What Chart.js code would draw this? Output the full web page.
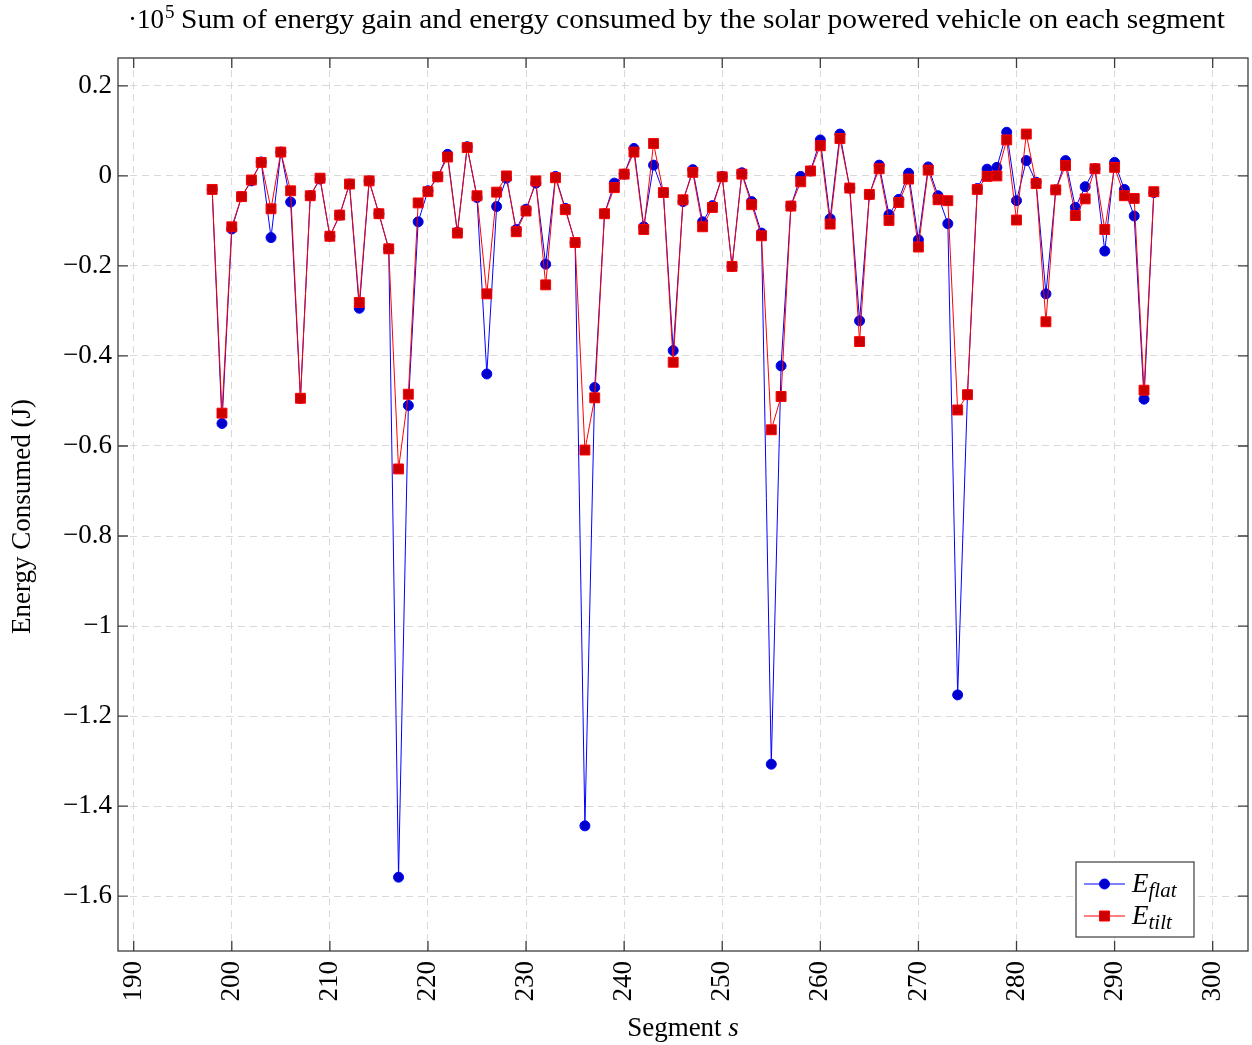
<!DOCTYPE html>
<html>
<head>
<meta charset="utf-8">
<script src="https://cdn.jsdelivr.net/npm/chart.js@4.4.1/dist/chart.umd.min.js"></script>
<style>
  body { margin: 0; background: #fff; }
  #wrap { width: 1252px; height: 1045px; }
</style>
</head>
<body>
<div id="wrap"><canvas id="grafik" width="1252" height="1045"></canvas></div>
<script>
// segment numbers
const segments = [198, 199, 200, 201, 202, 203, 204, 205, 206, 207, 208, 209, 210, 211, 212, 213, 214, 215, 216, 217,
  218, 219, 220, 221, 222, 223, 224, 225, 226, 227, 228, 229, 230, 231, 232, 233, 234, 235, 236, 237,
  238, 239, 240, 241, 242, 243, 244, 245, 246, 247, 248, 249, 250, 251, 252, 253, 254, 255, 256, 257,
  258, 259, 260, 261, 262, 263, 264, 265, 266, 267, 268, 269, 270, 271, 272, 273, 274, 275, 276, 277,
  278, 279, 280, 281, 282, 283, 284, 285, 286, 287, 288, 289, 290, 291, 292, 293, 294];

// energy values, unit 1e5 J
const eFlat = [-0.030, -0.550, -0.118, -0.046, -0.011, 0.031, -0.137, 0.053, -0.058, -0.494,
  -0.044, -0.007, -0.134, -0.087, -0.018, -0.294, -0.011, -0.084, -0.162, -1.558,
  -0.510, -0.102, -0.033, -0.002, 0.048, -0.125, 0.065, -0.048, -0.440, -0.068,
  -0.005, -0.119, -0.074, -0.016, -0.196, -0.001, -0.072, -0.148, -1.444, -0.470,
  -0.084, -0.016, 0.004, 0.061, -0.113, 0.024, -0.037, -0.388, -0.057, 0.014,
  -0.102, -0.066, -0.001, -0.201, 0.007, -0.057, -0.127, -1.307, -0.422, -0.067,
  -0.001, 0.011, 0.080, -0.095, 0.093, -0.027, -0.322, -0.042, 0.024, -0.086,
  -0.052, 0.006, -0.142, 0.020, -0.044, -0.106, -1.153, -0.486, -0.028, 0.015,
  0.019, 0.097, -0.055, 0.034, -0.014, -0.262, -0.031, 0.034, -0.070, -0.024,
  0.016, -0.167, 0.030, -0.030, -0.089, -0.496, -0.037];

const eTilt = [-0.030, -0.527, -0.113, -0.046, -0.009, 0.030, -0.073, 0.053, -0.033, -0.494,
  -0.044, -0.005, -0.134, -0.087, -0.018, -0.281, -0.011, -0.084, -0.162, -0.651,
  -0.485, -0.060, -0.035, -0.002, 0.042, -0.127, 0.063, -0.044, -0.262, -0.036,
  0.000, -0.124, -0.078, -0.011, -0.242, -0.004, -0.075, -0.148, -0.609, -0.493,
  -0.084, -0.026, 0.004, 0.053, -0.119, 0.072, -0.037, -0.414, -0.053, 0.008,
  -0.113, -0.070, -0.002, -0.201, 0.004, -0.064, -0.133, -0.564, -0.490, -0.067,
  -0.013, 0.011, 0.067, -0.107, 0.083, -0.027, -0.368, -0.041, 0.016, -0.099,
  -0.059, -0.007, -0.158, 0.013, -0.053, -0.055, -0.520, -0.486, -0.030, -0.001,
  0.000, 0.080, -0.098, 0.093, -0.017, -0.324, -0.031, 0.023, -0.088, -0.051,
  0.016, -0.119, 0.019, -0.044, -0.050, -0.476, -0.035];

const seriesNames = [['E', 'flat'], ['E', 'tilt']];
const judul = 'Sum of energy gain and energy consumed by the solar powered vehicle on each segment';
const labelX = 'Segment';
const labelY = 'Energy Consumed (J)';

const FONT = 'Liberation Serif';
const SIZE = 27;

function toPoints(vals) {
  return segments.map((s, i) => ({ x: s, y: vals[i] }));
}

function fmtY(v) {
  let r = Math.round(v * 10) / 10;
  if (r === 0) return '0';
  return (r < 0 ? '\u2212' : '') + String(Math.abs(r));
}

// frame, inward ticks, texts and legend
const hiasan = {
  id: 'hiasan',
  afterDatasetsDraw(chart) {
    const ctx = chart.ctx;
    const a = chart.chartArea;
    const sx = chart.scales.x, sy = chart.scales.y;
    ctx.save();
    ctx.strokeStyle = '#3c3c3c';
    ctx.lineWidth = 1.3;
    ctx.setLineDash([]);
    ctx.strokeRect(a.left, a.top, a.right - a.left, a.bottom - a.top);
    const tl = 10;
    ctx.beginPath();
    sx.ticks.forEach(t => {
      const p = sx.getPixelForValue(t.value);
      ctx.moveTo(p, a.top); ctx.lineTo(p, a.top + tl);
      ctx.moveTo(p, a.bottom); ctx.lineTo(p, a.bottom - tl);
    });
    sy.ticks.forEach(t => {
      const p = sy.getPixelForValue(t.value);
      ctx.moveTo(a.left, p); ctx.lineTo(a.left + tl, p);
      ctx.moveTo(a.right, p); ctx.lineTo(a.right - tl, p);
    });
    ctx.stroke();

    // legend
    const lw = 118, lh = 75;
    const lx = a.right - 172, ly = a.bottom - 89;
    ctx.fillStyle = '#fff';
    ctx.fillRect(lx, ly, lw, lh);
    ctx.strokeStyle = '#3c3c3c';
    ctx.lineWidth = 1.2;
    ctx.strokeRect(lx, ly, lw, lh);
    chart.data.datasets.forEach((ds, i) => {
      const cy = ly + 22 + i * 32;
      ctx.strokeStyle = ds.borderColor;
      ctx.lineWidth = 1;
      ctx.beginPath();
      ctx.moveTo(lx + 8, cy); ctx.lineTo(lx + 49, cy);
      ctx.stroke();
      ctx.fillStyle = ds.pointBackgroundColor;
      ctx.beginPath();
      if (ds.pointStyle === 'rect') {
        ctx.rect(lx + 28.5 - 5, cy - 5, 10, 10);
      } else {
        ctx.arc(lx + 28.5, cy, 5, 0, Math.PI * 2);
      }
      ctx.fill();
      ctx.stroke();
      const nm = seriesNames[i];
      ctx.fillStyle = '#000';
      ctx.textBaseline = 'alphabetic';
      ctx.textAlign = 'left';
      ctx.font = 'italic ' + SIZE + 'px ' + FONT;
      ctx.fillText(nm[0], lx + 56, cy + 8);
      const w = ctx.measureText(nm[0]).width;
      ctx.font = 'italic 21px ' + FONT;
      ctx.fillText(nm[1], lx + 56 + w, cy + 13);
    });

    // title with scale factor
    ctx.fillStyle = '#000';
    ctx.textAlign = 'left';
    ctx.font = SIZE + 'px ' + FONT;
    ctx.fillText('\u00b710', 128, 28);
    const w10 = ctx.measureText('\u00b710').width;
    ctx.font = '19px ' + FONT;
    ctx.fillText('5', 128 + w10 + 1, 18);
    ctx.font = SIZE + 'px ' + FONT;
    ctx.textAlign = 'center';
    const wj = ctx.measureText(judul).width;
    const k = 1044 / wj;
    ctx.save();
    ctx.translate(703, 28);
    ctx.scale(k, 1);
    ctx.fillText(judul, 0, 0);
    ctx.restore();

    // x axis label
    ctx.textAlign = 'left';
    ctx.font = SIZE + 'px ' + FONT;
    const wS = ctx.measureText(labelX + ' ').width;
    ctx.font = 'italic ' + SIZE + 'px ' + FONT;
    const wI = ctx.measureText('s').width;
    const x0 = (a.left + a.right) / 2 - (wS + wI) / 2;
    ctx.font = SIZE + 'px ' + FONT;
    ctx.fillText(labelX + ' ', x0, 1036);
    ctx.font = 'italic ' + SIZE + 'px ' + FONT;
    ctx.fillText('s', x0 + wS, 1036);

    // y axis label
    ctx.font = SIZE + 'px ' + FONT;
    ctx.translate(30, (a.top + a.bottom) / 2 + 12);
    ctx.rotate(-Math.PI / 2);
    ctx.textAlign = 'center';
    ctx.fillText(labelY, 0, 0);
    ctx.restore();
  }
};

Chart.defaults.font.family = FONT;
Chart.defaults.font.size = SIZE;
Chart.defaults.color = '#000';

new Chart(document.getElementById('grafik'), {
  type: 'line',
  data: {
    datasets: [
      {
        label: 'E_flat',
        data: toPoints(eFlat),
        borderColor: '#0000ff',
        borderWidth: 1,
        pointStyle: 'circle',
        pointRadius: 5,
        pointBorderWidth: 1,
        pointBackgroundColor: '#0000cc',
        pointBorderColor: '#0000ff',
        tension: 0,
        order: 2
      },
      {
        label: 'E_tilt',
        data: toPoints(eTilt),
        borderColor: '#ff0000',
        borderWidth: 1,
        pointStyle: 'rect',
        pointRadius: 7,
        pointBorderWidth: 1,
        pointBackgroundColor: '#cc0000',
        pointBorderColor: '#ff0000',
        tension: 0,
        order: 1
      }
    ]
  },
  options: {
    responsive: false,
    animation: false,
    layout: { autoPadding: false, padding: { top: 58, right: 4, left: 0, bottom: 0 } },
    plugins: {
      legend: { display: false },
      tooltip: { enabled: false },
      title: { display: false }
    },
    scales: {
      x: {
        type: 'linear',
        min: 188.4,
        max: 303.6,
        afterFit: (s) => { s.height = 94; s.paddingLeft = 0; s.paddingRight = 0; },
        ticks: {
          stepSize: 10,
          includeBounds: false,
          minRotation: 90,
          maxRotation: 90,
          padding: 10,
          callback: (v) => String(v)
        },
        grid: { color: '#d9d9d9', lineWidth: 1, drawTicks: false },
        border: { display: false, dash: [7, 5] }
      },
      y: {
        min: -1.722,
        max: 0.262,
        afterFit: (s) => { s.width = 118; s.paddingTop = 0; s.paddingBottom = 0; },
        ticks: {
          stepSize: 0.2,
          includeBounds: false,
          padding: 6,
          callback: (v) => fmtY(v)
        },
        grid: { color: '#d9d9d9', lineWidth: 1, drawTicks: false },
        border: { display: false, dash: [7, 5] }
      }
    }
  },
  plugins: [hiasan]
});
</script>
</body>
</html>
